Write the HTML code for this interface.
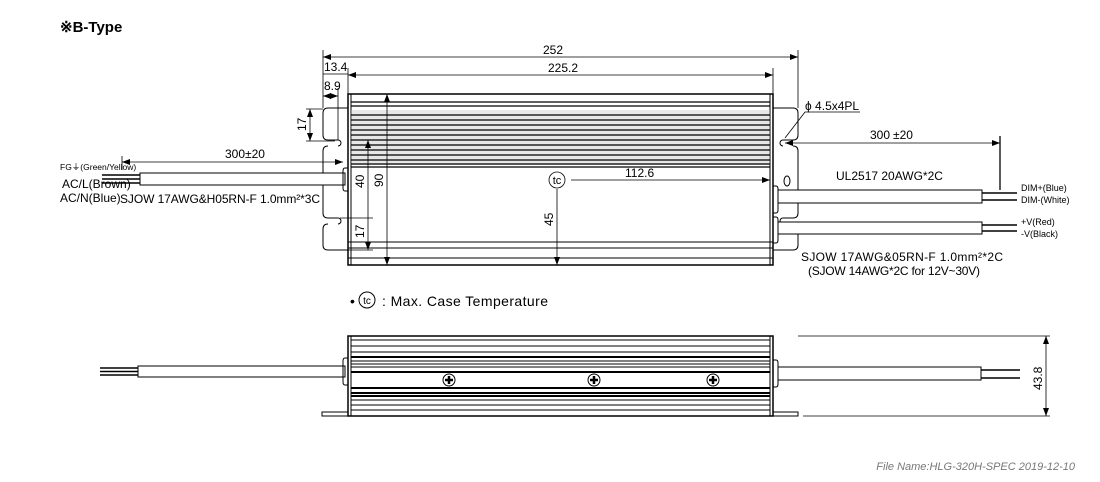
<!DOCTYPE html>
<html><head><meta charset="utf-8"><style>
html,body{margin:0;padding:0;background:#fff;}
svg{display:block;font-family:"Liberation Sans",Arial,sans-serif;}
</style></head><body>
<svg width="1100" height="482" viewBox="0 0 1100 482" xmlns="http://www.w3.org/2000/svg">
<defs><marker id="a" markerWidth="8" markerHeight="6" refX="8" refY="3" orient="auto-start-reverse" markerUnits="userSpaceOnUse"><path d="M0,0 L8,3 L0,6 z" fill="#000"/></marker></defs>
<text x="60" y="32" font-size="15" font-weight="bold">※B-Type</text>

<g stroke="#000" fill="none" stroke-width="1">
<path d="M348,108 H328 Q323,108 323,113 V135 Q323,140 328,140 H338 M328,146 Q323,146 323,151 V213 Q323,218 328,218 H338 M328,224 Q323,224 323,229 V245 Q323,250 328,250 H348"/>
<path d="M773,108 H793 Q798,108 798,113 V135 Q798,140 793,140 H783 M793,146 Q798,146 798,151 V213 Q798,218 793,218 H783 M793,224 Q798,224 798,229 V245 Q798,250 793,250 H773"/>
<path d="M338,140 A3,3 0 0 1 338,146 M783,140 A3,3 0 0 0 783,146 M338,218 A3,3 0 0 1 338,224 M783,218 A3,3 0 0 0 783,224"/>
<ellipse cx="787" cy="181" rx="3" ry="5"/>
<rect x="348" y="94" width="425" height="171" stroke-width="1.5"/>
<line x1="351" y1="94" x2="351" y2="265"/><line x1="770" y1="94" x2="770" y2="265"/>
<line x1="348" y1="242" x2="773" y2="242"/><line x1="348" y1="248" x2="773" y2="248"/><line x1="348" y1="258" x2="773" y2="258"/>
</g>
<rect x="351" y="110" width="419" height="55" fill="#bbb" opacity="0.35"/>
<g stroke="#000" stroke-width="1.3">
<line x1="351" y1="102" x2="770" y2="102"/><line x1="351" y1="106" x2="770" y2="106"/>
<line x1="351" y1="115" x2="770" y2="115"/><line x1="351" y1="120" x2="770" y2="120"/>
<line x1="351" y1="125" x2="770" y2="125"/><line x1="351" y1="130" x2="770" y2="130"/>
<line x1="351" y1="135" x2="770" y2="135"/><line x1="351" y1="140" x2="770" y2="140"/>
<line x1="351" y1="145" x2="770" y2="145"/><line x1="351" y1="150" x2="770" y2="150"/>
<line x1="351" y1="155" x2="770" y2="155"/><line x1="351" y1="160" x2="770" y2="160"/>
<line x1="351" y1="164" x2="770" y2="164"/><line x1="351" y1="167" x2="770" y2="167"/>
</g>

<g stroke="#000" stroke-width="0.8" fill="none">
<line x1="323" y1="50" x2="323" y2="108"/><line x1="798" y1="50" x2="798" y2="108"/>
<line x1="348" y1="68" x2="348" y2="94"/><line x1="773" y1="68" x2="773" y2="94"/>
<line x1="323" y1="57" x2="798" y2="57" marker-start="url(#a)" marker-end="url(#a)"/>
<line x1="348" y1="75" x2="773" y2="75" marker-start="url(#a)" marker-end="url(#a)"/>
<line x1="323" y1="74" x2="348" y2="74"/>
<line x1="338" y1="88" x2="338" y2="140"/>
<line x1="323" y1="96" x2="338" y2="96" marker-start="url(#a)" marker-end="url(#a)"/>
<line x1="306" y1="109" x2="323" y2="109"/><line x1="306" y1="141" x2="335" y2="141"/>
<line x1="310" y1="109" x2="310" y2="141" marker-start="url(#a)" marker-end="url(#a)"/>
<line x1="368" y1="140" x2="368" y2="250" marker-start="url(#a)" marker-end="url(#a)"/>
<line x1="340" y1="218" x2="373" y2="218"/><line x1="340" y1="250" x2="373" y2="250"/>
<line x1="387" y1="94" x2="387" y2="265" marker-start="url(#a)" marker-end="url(#a)"/>
<line x1="557" y1="189" x2="557" y2="265" marker-end="url(#a)"/>
<line x1="571" y1="180" x2="770" y2="180" marker-end="url(#a)"/>
<circle cx="557" cy="180" r="8"/>
<line x1="785" y1="143" x2="1000" y2="143" marker-start="url(#a)" marker-end="url(#a)"/>
<line x1="1000" y1="136" x2="1000" y2="190" stroke-width="1.3"/>
<path d="M785,138 L805,112 H860"/>
</g>
<text x="557" y="184" font-size="11" text-anchor="middle">tc</text>
<g font-size="12">
<text x="553" y="54" text-anchor="middle">252</text>
<text x="563" y="72" text-anchor="middle">225.2</text>
<text x="324" y="71">13.4</text>
<text x="324" y="90">8.9</text>
<text x="625" y="177">112.6</text>
<text x="870" y="139">300</text><text x="893" y="139">±20</text>
<text x="805" y="110">ϕ 4.5x4PL</text>
<text x="836" y="180">UL2517 20AWG*2C</text>
<text x="801" y="261" textLength="202" lengthAdjust="spacing">SJOW 17AWG&amp;05RN-F 1.0mm²*2C</text>
<text x="808" y="275" textLength="172" lengthAdjust="spacing">(SJOW 14AWG*2C for 12V~30V)</text>
<text x="225" y="158">300±20</text>
<text x="120" y="203" textLength="200" lengthAdjust="spacing">SJOW 17AWG&amp;H05RN-F 1.0mm²*3C</text>
<text x="62" y="188">AC/L(Brown)</text>
<text x="60" y="202">AC/N(Blue)</text>
<text x="60" y="170" font-size="8.5">FG⏚(Green/Yellow)</text>
<text transform="translate(306,131) rotate(-90)">17</text>
<text transform="translate(364,188) rotate(-90)">40</text>
<text transform="translate(383,187) rotate(-90)">90</text>
<text transform="translate(364,238) rotate(-90)">17</text>
<text transform="translate(553,226) rotate(-90)">45</text>
<text x="1021" y="191" font-size="9">DIM+(Blue)</text>
<text x="1021" y="203" font-size="9">DIM-(White)</text>
<text x="1021" y="225" font-size="9">+V(Red)</text>
<text x="1021" y="237" font-size="9">-V(Black)</text>
</g>
<g stroke="#000" fill="none" stroke-width="1">
<rect x="140" y="173" width="205" height="12" fill="#fff"/>
<path d="M348,168 H345 Q343,168 343,171 V188 Q343,191 345,191 H348"/>
<line x1="122" y1="162" x2="343" y2="162" marker-start="url(#a)" marker-end="url(#a)" stroke-width="0.8"/>
<line x1="122" y1="156" x2="122" y2="170" stroke-width="0.8"/>
</g>
<g stroke="#000" stroke-width="1.5"><line x1="102" y1="175" x2="140" y2="175"/><line x1="102" y1="179" x2="140" y2="179"/><line x1="102" y1="183" x2="140" y2="183"/></g>
<g stroke="#000" fill="none" stroke-width="1">
<rect x="778" y="190" width="204" height="13" fill="#fff"/>
<rect x="778" y="222" width="204" height="12" fill="#fff"/>
<path d="M773,186 H776 Q778,186 778,189 V210 Q778,213 776,213 H773"/>
<path d="M773,217 H776 Q778,217 778,220 V240 Q778,243 776,243 H773"/>
</g>
<g stroke="#000" stroke-width="1.5"><line x1="982" y1="193" x2="1017" y2="193"/><line x1="982" y1="200" x2="1017" y2="200"/><line x1="982" y1="225" x2="1017" y2="225"/><line x1="982" y1="231" x2="1017" y2="231"/></g>

<text x="350" y="306" font-size="14">•</text>
<circle cx="367" cy="300" r="8" fill="none" stroke="#000"/>
<text x="367" y="304" font-size="10" text-anchor="middle">tc</text>
<text x="382" y="306" font-size="14" textLength="166" lengthAdjust="spacing">: Max. Case Temperature</text>

<g stroke="#000" fill="none" stroke-width="1">
<rect x="322" y="412" width="26" height="4"/><rect x="773" y="412" width="25" height="4"/>
<rect x="348" y="336" width="425" height="80" stroke-width="1.5"/>
<line x1="351" y1="336" x2="351" y2="416"/><line x1="770" y1="336" x2="770" y2="416"/>
<line x1="351" y1="340" x2="770" y2="340"/><line x1="351" y1="346" x2="770" y2="346"/>
<line x1="351" y1="352" x2="770" y2="352"/><line x1="351" y1="405" x2="770" y2="405"/><line x1="351" y1="410" x2="770" y2="410"/>
<line x1="351" y1="400" x2="770" y2="400"/>
</g>
<g stroke="#000">
<line x1="351" y1="357" x2="770" y2="357" stroke-width="2"/>
<line x1="351" y1="361" x2="770" y2="361" stroke-width="1"/>
<line x1="351" y1="364" x2="770" y2="364" stroke-width="1"/>
<line x1="351" y1="367" x2="770" y2="367" stroke-width="1"/>
<line x1="351" y1="372" x2="770" y2="372" stroke-width="2"/>
<line x1="351" y1="388" x2="770" y2="388" stroke-width="2"/>
<line x1="351" y1="393" x2="770" y2="393" stroke-width="2"/>
<line x1="351" y1="396" x2="770" y2="396" stroke-width="2"/>
</g>
<g stroke="#000" fill="#fff" stroke-width="1">
<circle cx="449" cy="380" r="6"/><circle cx="594" cy="380" r="6"/><circle cx="713" cy="380" r="6"/>
</g>
<g stroke="#000" stroke-width="2.5">
<path d="M445,380 H453 M449,376 V384 M590,380 H598 M594,376 V384 M709,380 H717 M713,376 V384"/>
</g>
<g stroke="#000" fill="none" stroke-width="1">
<rect x="138" y="366" width="207" height="11" fill="#fff"/>
<path d="M348,358 H345 Q343,358 343,361 V382 Q343,385 345,385 H348"/>
<rect x="778" y="367" width="203" height="13" fill="#fff"/>
<path d="M773,360 H776 Q778,360 778,363 V384 Q778,387 776,387 H773"/>
<line x1="798" y1="336" x2="1050" y2="336" stroke-width="0.8"/>
<line x1="803" y1="416" x2="1050" y2="416" stroke-width="0.8"/>
<line x1="1046" y1="336" x2="1046" y2="416" marker-start="url(#a)" marker-end="url(#a)" stroke-width="0.8"/>
</g>
<g stroke="#000" stroke-width="1.5"><line x1="100" y1="368" x2="138" y2="368"/><line x1="100" y1="371.5" x2="138" y2="371.5"/><line x1="100" y1="375" x2="138" y2="375"/>
<line x1="981" y1="370" x2="1020" y2="370"/><line x1="981" y1="378" x2="1020" y2="378"/></g>
<text transform="translate(1042,390) rotate(-90)" font-size="12">43.8</text>

<text x="1075" y="470" font-size="11" font-style="italic" fill="#777" text-anchor="end">File Name:HLG-320H-SPEC   2019-12-10</text>
</svg>
</body></html>
